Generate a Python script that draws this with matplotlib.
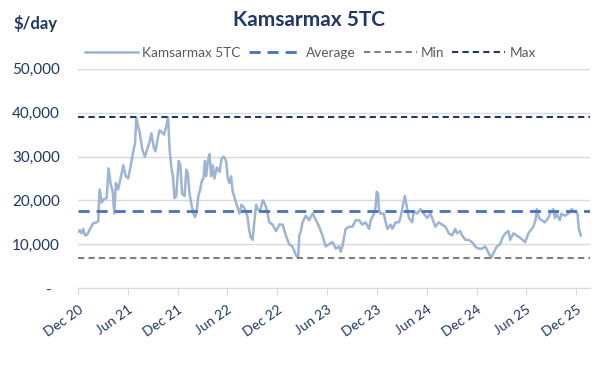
#!/usr/bin/env python3

import matplotlib
matplotlib.use('Agg')
import matplotlib.pyplot as plt
import numpy as np
import pandas as pd

# days after 1 Dec 2020, and the 5TC rate in $000/day
days = [0, 7, 13, 19, 26, 34, 44, 56, 68, 74, 79, 87, 95, 105, 112, 119, 127, 133,
        139, 147, 156, 166, 175, 184, 192, 202, 209, 214, 220, 226, 236, 245, 253,
        263, 269, 278, 284, 292, 299, 308, 315, 324, 330, 336, 342, 348, 354, 360,
        369, 375, 382, 391, 397, 403, 409, 416, 423, 429, 435, 441, 448, 454, 460,
        465, 470, 476, 482, 488, 494, 500, 509, 519, 526, 534, 543, 549, 555, 561,
        567, 577, 584, 592, 599, 607, 616, 622, 628, 634, 640, 646, 653, 659, 667,
        677, 683, 689, 695, 701, 713, 726, 738, 750, 762, 774, 786, 799, 807,
        811, 817, 823, 835, 847, 860, 872, 884, 896, 908, 920, 933, 945, 957, 963,
        969, 981, 993, 1006, 1018, 1030, 1042, 1054, 1067, 1073, 1085, 1091, 1095,
        1100, 1103, 1109, 1121, 1128, 1134, 1146, 1152, 1164, 1176, 1182, 1188,
        1198, 1204, 1213, 1225, 1231, 1243, 1255, 1267, 1280, 1292, 1304, 1310,
        1322, 1334, 1347, 1359, 1371, 1383, 1389, 1401, 1408, 1420, 1432, 1444,
        1456, 1468, 1481, 1493, 1505, 1515, 1523, 1535, 1547, 1556, 1566, 1578,
        1584, 1596, 1608, 1620, 1639, 1651, 1663, 1669, 1677, 1682, 1690, 1699,
        1711, 1724, 1730, 1736, 1742, 1748, 1754, 1766, 1772, 1785, 1797, 1809,
        1821, 1831, 1836, 1843]
rate_k = [12.8, 13.2, 12.5, 13.5, 12.0, 12.2, 13.5, 14.8, 15.0, 15.2, 22.5, 19.5,
          20.3, 20.5, 27.3, 24.0, 22.0, 17.0, 24.0, 22.5, 25.0, 28.0, 25.5, 25.0,
          27.5, 31.0, 33.0, 38.8, 37.0, 35.5, 31.5, 30.0, 31.5, 33.5, 35.3, 32.0,
          31.2, 34.0, 36.0, 35.5, 35.0, 37.0, 39.0, 31.5, 27.5, 25.5, 20.5, 21.0,
          29.0, 28.0, 21.5, 21.0, 27.0, 26.0, 21.5, 19.0, 17.0, 16.2, 17.5, 21.0,
          22.5, 24.5, 25.0, 29.0, 25.5, 29.0, 30.5, 25.5, 28.0, 25.0, 27.5, 26.5,
          29.5, 30.0, 29.0, 25.0, 24.0, 25.5, 22.0, 20.0, 18.5, 17.0, 19.0, 18.5,
          17.5, 16.0, 13.0, 11.5, 11.0, 15.0, 19.0, 18.0, 17.5, 20.0, 19.5, 18.5,
          17.0, 15.0, 14.5, 13.0, 14.5, 14.5, 12.0, 10.0, 9.5, 7.5, 7.0,
          12.0, 13.0, 15.0, 16.5, 15.5, 17.0, 15.5, 14.0, 12.0, 9.5, 10.0, 10.5,
          9.0, 9.5, 8.3, 9.5, 13.5, 14.0, 14.0, 15.5, 15.5, 14.5, 15.0, 13.5, 15.5,
          17.0, 18.5, 22.0, 21.5, 18.0, 17.0, 17.0, 15.0, 13.5, 14.5, 13.5, 15.0,
          15.0, 16.0, 18.0, 21.0, 19.0, 16.0, 15.0, 17.5, 17.0, 18.0, 17.0, 16.0,
          17.0, 15.0, 14.0, 15.0, 14.5, 14.0, 12.5, 12.0, 13.5, 12.5, 13.0, 12.0,
          11.0, 11.0, 10.5, 9.5, 9.0, 9.0, 9.5, 8.0, 6.9, 8.0, 9.5, 10.0, 11.5,
          12.5, 13.0, 11.0, 12.5, 12.0, 11.5, 10.5, 12.5, 13.5, 14.0, 15.5, 18.0,
          16.0, 15.5, 15.0, 16.0, 17.0, 17.5, 18.0, 16.0, 17.0, 15.5, 17.0, 16.5,
          17.0, 18.0, 17.5, 17.0, 13.5, 12.0]
average = 17600
minimum = 6900
maximum = 39000
tick_labels = ['Dec 20', 'Jun 21', 'Dec 21', 'Jun 22', 'Dec 22', 'Jun 23',
               'Dec 23', 'Jun 24', 'Dec 24', 'Jun 25', 'Dec 25']

navy = '#1F3864'
plt.rcParams['font.family'] = ['Lato', 'DejaVu Sans']

dates = pd.Timestamp('2020-12-01') + pd.to_timedelta(days, unit='D')
values = np.array(rate_k) * 1000

fig = plt.figure(figsize=(6, 3.68), dpi=100)
ax = fig.add_axes([0.13, 0.217, 0.853, 0.596])

x0, x1 = pd.Timestamp('2020-12-01'), pd.Timestamp('2026-01-20')
ax.plot(dates, values, color='#9DB4D3', lw=1.8, label='Kamsarmax 5TC', zorder=3)
ax.plot([x0, x1], [average] * 2, color='#4472C4', lw=2, dashes=(4, 2.5), label='Average', zorder=4)
ax.plot([x0, x1], [minimum] * 2, color='#7F7F7F', lw=1.5, dashes=(3, 2), label='Min', zorder=4)
ax.plot([x0, x1], [maximum] * 2, color=navy, lw=1.5, dashes=(3, 2), label='Max', zorder=4)

ax.set_xlim(x0, x1)
ax.set_ylim(0, 50000)
ax.set_yticks(np.arange(0, 50001, 10000))
ax.set_yticklabels(['-  '] + [f'{v:,}' for v in range(10000, 50001, 10000)])
ax.grid(axis='y', color='#D9D9D9', lw=1)
ax.set_axisbelow(True)

ticks = pd.date_range('2020-12-01', periods=len(tick_labels), freq='6MS')
ax.set_xticks(ticks)
ax.set_xticklabels(tick_labels, rotation=35, ha='right', va='top', rotation_mode='anchor')

for s in ['top', 'right', 'left']:
    ax.spines[s].set_visible(False)
ax.spines['bottom'].set_color('#D9D9D9')
ax.tick_params(axis='y', length=0, labelsize=11, labelcolor=navy, pad=13)
ax.tick_params(axis='x', length=5, color='#D9D9D9', labelsize=10, labelcolor=navy, pad=6)

leg = ax.legend(loc='center', bbox_to_anchor=(0.454, 1.073), ncol=4, frameon=False,
                fontsize=9.8, handlelength=3.9, columnspacing=0.6, handletextpad=0.3,
                borderaxespad=0, borderpad=0)
for t in leg.get_texts():
    t.set_color('#595959')

fig.text(0.515, 0.945, 'Kamsarmax 5TC', ha='center', va='center', fontsize=15,
         fontweight='bold', color=navy)
fig.text(0.022, 0.935, '$/day', ha='left', va='center', fontsize=12,
         fontweight='bold', color=navy)

fig.savefig('out.png', dpi=100)
